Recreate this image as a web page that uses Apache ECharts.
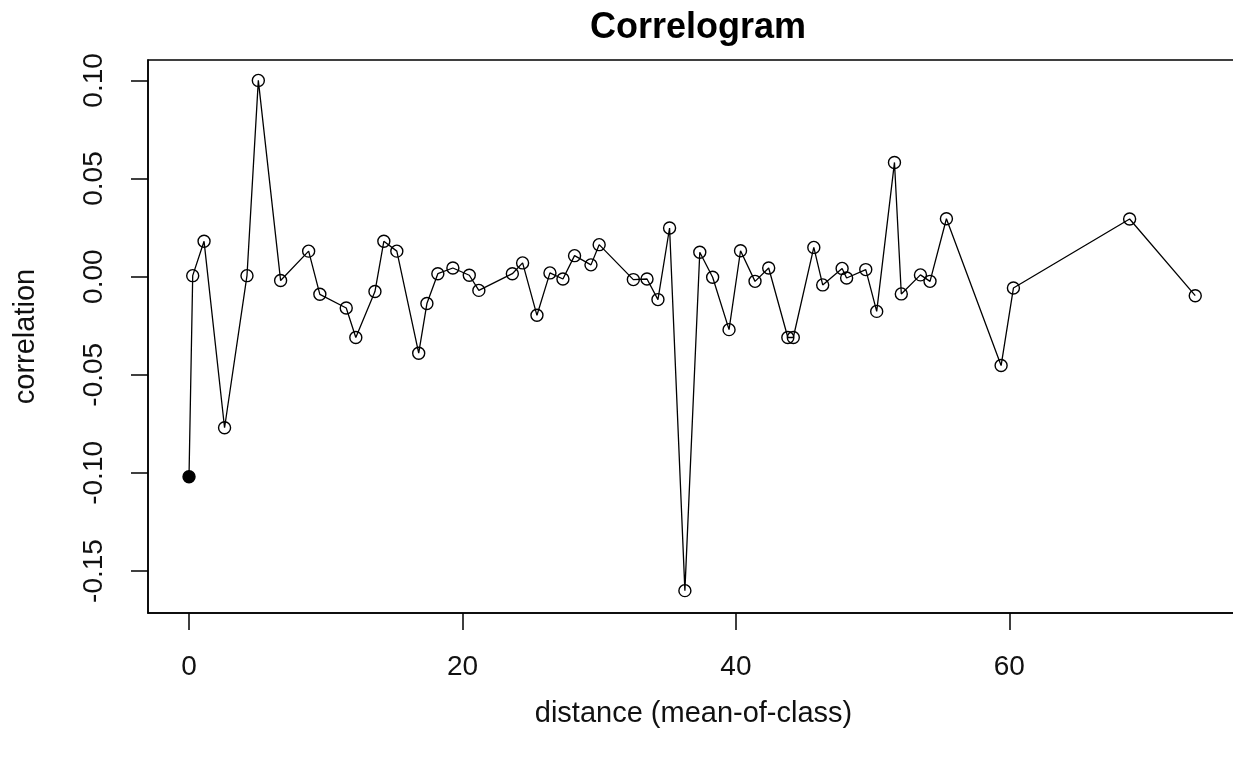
<!DOCTYPE html>
<html>
<head>
<meta charset="utf-8">
<title>Correlogram</title>
<script src="https://cdn.jsdelivr.net/npm/echarts@6/dist/echarts.min.js"></script>
<style>
  html, body { margin: 0; padding: 0; background: #fff; }
  #main { width: 1233px; height: 759px; }
</style>
</head>
<body>
<div id="main"></div>
<script>
// initialize echarts instance with prepared DOM
const myChart = echarts.init(document.getElementById('main'));

// Data
var distance = [0, 0.27, 1.1, 2.6, 4.24, 5.07, 6.7, 8.75, 9.57, 11.5, 12.2, 13.6, 14.25, 15.2,
  16.8, 17.4, 18.2, 19.3, 20.5, 21.2, 23.65, 24.4, 25.45, 26.4, 27.35, 28.2, 29.4, 30.0,
  32.5, 33.5, 34.3, 35.15, 36.27, 37.36, 38.3, 39.5, 40.34, 41.4, 42.4, 43.8, 44.2, 45.7,
  46.35, 47.77, 48.1, 49.5, 50.3, 51.6, 52.1, 53.5, 54.2, 55.4, 59.4, 60.3, 68.8, 73.6];

var correlation = [-0.102, 0.0005, 0.018, -0.077, 0.0005, 0.100, -0.002, 0.013, -0.009, -0.016,
  -0.031, -0.0076, 0.018, 0.013, -0.039, -0.0137, 0.0015, 0.0044, 0.0007, -0.007, 0.0015,
  0.007, -0.0197, 0.0019, -0.0012, 0.0107, 0.006, 0.0163, -0.0015, -0.0012, -0.0117, 0.0248,
  -0.160, 0.0124, -0.0003, -0.027, 0.0132, -0.0024, 0.0044, -0.031, -0.031, 0.0149, -0.0042,
  0.0042, -0.0007, 0.0036, -0.0177, 0.0582, -0.0088, 0.0009, -0.0024, 0.0295, -0.0453,
  -0.0058, 0.0294, -0.0097];

// significant classes get a filled dot
var significant = [true];

var xTicks = [0, 20, 40, 60];
var yTicks = [-0.15, -0.10, -0.05, 0.00, 0.05, 0.10];

var font = 'Liberation Sans, Arial, sans-serif';

// open circles (see-through) like R's pch = 1, filled when significant
var points = distance.map(function (d, i) {
  var item = { value: [d, correlation[i]] };
  if (significant[i]) {
    item.itemStyle = { color: '#000' };
  }
  return item;
});

var option = {
  animation: false,
  backgroundColor: '#fff',
  title: {
    text: 'Correlogram',
    left: 693,
    textAlign: 'center',
    top: 5,
    textStyle: { fontFamily: font, fontSize: 36, fontWeight: 'bold', color: '#000' }
  },
  grid: {
    left: 148, top: 60, width: 1091, height: 553,
    outerBoundsMode: 'none',
    show: true, borderColor: '#000', borderWidth: 1.5, backgroundColor: '#fff'
  },
  xAxis: {
    type: 'value',
    min: -3.0,
    max: 76.8,
    name: 'distance (mean-of-class)',
    nameLocation: 'middle',
    nameGap: 86,
    nameTextStyle: { fontFamily: font, fontSize: 29, color: '#111' },
    splitLine: { show: false },
    axisLine: { show: true, onZero: false, lineStyle: { color: '#000', width: 1.5 } },
    axisTick: { show: true, customValues: xTicks, length: 17, lineStyle: { color: '#000', width: 1.5 } },
    axisLabel: { customValues: xTicks, margin: 40, fontFamily: font, fontSize: 28, color: '#111' }
  },
  yAxis: {
    type: 'value',
    min: -0.1714,
    max: 0.1104,
    name: 'correlation',
    nameLocation: 'middle',
    nameGap: 108,
    nameTextStyle: { fontFamily: font, fontSize: 29, color: '#111' },
    splitLine: { show: false },
    axisLine: { show: true, onZero: false, lineStyle: { color: '#000', width: 1.5 } },
    axisTick: { show: true, customValues: yTicks, length: 17, lineStyle: { color: '#000', width: 1.5 } },
    axisLabel: {
      customValues: yTicks,
      rotate: 90,
      margin: 40,
      fontFamily: font,
      fontSize: 28,
      color: '#111',
      formatter: function (v) { return v.toFixed(2); }
    }
  },
  series: [{
    type: 'line',
    data: points,
    symbol: 'circle',
    symbolSize: 12,
    showAllSymbol: true,
    lineStyle: { color: '#000', width: 1.3 },
    itemStyle: { color: 'rgba(0,0,0,0)', borderColor: '#000', borderWidth: 1.4 },
    emphasis: { disabled: true }
  }]
};

myChart.setOption(option);
</script>
</body>
</html>
